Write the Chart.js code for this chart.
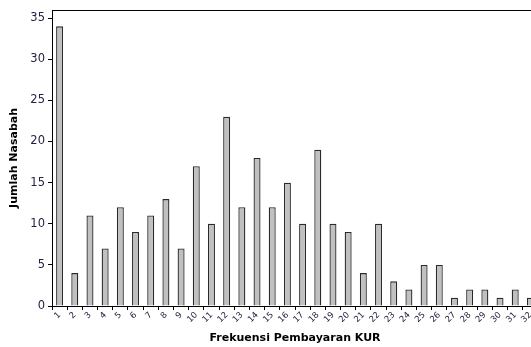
<!DOCTYPE html>
<html>
<head>
<meta charset="utf-8">
<script src="https://cdn.jsdelivr.net/npm/chart.js@4"></script>
<style>
  html, body { margin: 0; padding: 0; background: #fff; overflow: hidden; }
  #wrap { width: 540px; height: 347px; }
</style>
</head>
<body>
<div id="wrap"><canvas id="chart" width="540" height="347"></canvas></div>
<script>
// frequency of KUR payments (1..32) and number of customers
const categories = ["1","2","3","4","5","6","7","8","9","10","11","12","13","14","15","16",
  "17","18","19","20","21","22","23","24","25","26","27","28","29","30","31","32"];
const customers = [34, 4, 11, 7, 12, 9, 11, 13, 7, 17, 10, 23, 12, 18, 12, 15,
  10, 19, 10, 9, 4, 10, 3, 2, 5, 5, 1, 2, 2, 1, 2, 1];
const yTicks = [0, 5, 10, 15, 20, 25, 30, 35];

const frame = {
  id: "frame",
  afterDraw(chart) {
    const { ctx, chartArea: a } = chart;
    ctx.save();
    ctx.strokeStyle = "#000";
    ctx.lineWidth = 1;
    ctx.strokeRect(Math.round(a.left) + 0.5, Math.round(a.top) + 0.5,
      Math.round(a.right - a.left), Math.round(a.bottom - a.top));
    ctx.restore();
  }
};

new Chart(document.getElementById("chart"), {
  type: "bar",
  data: {
    labels: categories,
    datasets: [{
      data: customers,
      backgroundColor: "#c0c0c0",
      borderColor: "#2a2a2a",
      borderWidth: 1.3,
      barPercentage: 0.46,
      categoryPercentage: 1
    }]
  },
  options: {
    responsive: false,
    animation: false,
    layout: { padding: { top: 5, right: 2, left: 0, bottom: 0 } },
    plugins: { legend: { display: false }, tooltip: { enabled: false } },
    scales: {
      x: {
        afterFit: s => { s.height = 41; },
        grid: { display: true, drawOnChartArea: false, tickLength: 4, color: "#000" },
        border: { display: false },
        ticks: {
          minRotation: 45, maxRotation: 45, autoSkip: false, padding: 0,
          color: "#222244", font: { family: "DejaVu Sans", size: 8.5 }
        },
        title: {
          display: true, text: "Frekuensi Pembayaran KUR", color: "#000",
          font: { family: "DejaVu Sans", size: 11, weight: "bold" },
          padding: { top: 0, bottom: 2 }
        }
      },
      y: {
        min: 0, max: 36,
        afterFit: s => { s.width = 52; },
        afterBuildTicks: s => { s.ticks = yTicks.map(v => ({ value: v })); },
        grid: { display: true, drawOnChartArea: false, tickLength: 4, color: "#000" },
        border: { display: false },
        ticks: {
          padding: 3, color: "#222244",
          font: { family: "DejaVu Sans", size: 11.5 }
        },
        title: {
          display: true, text: "Jumlah Nasabah", color: "#000",
          font: { family: "DejaVu Sans", size: 11, weight: "bold" },
          padding: { top: 8, bottom: 0 }
        }
      }
    }
  },
  plugins: [frame]
});
</script>
</body>
</html>
